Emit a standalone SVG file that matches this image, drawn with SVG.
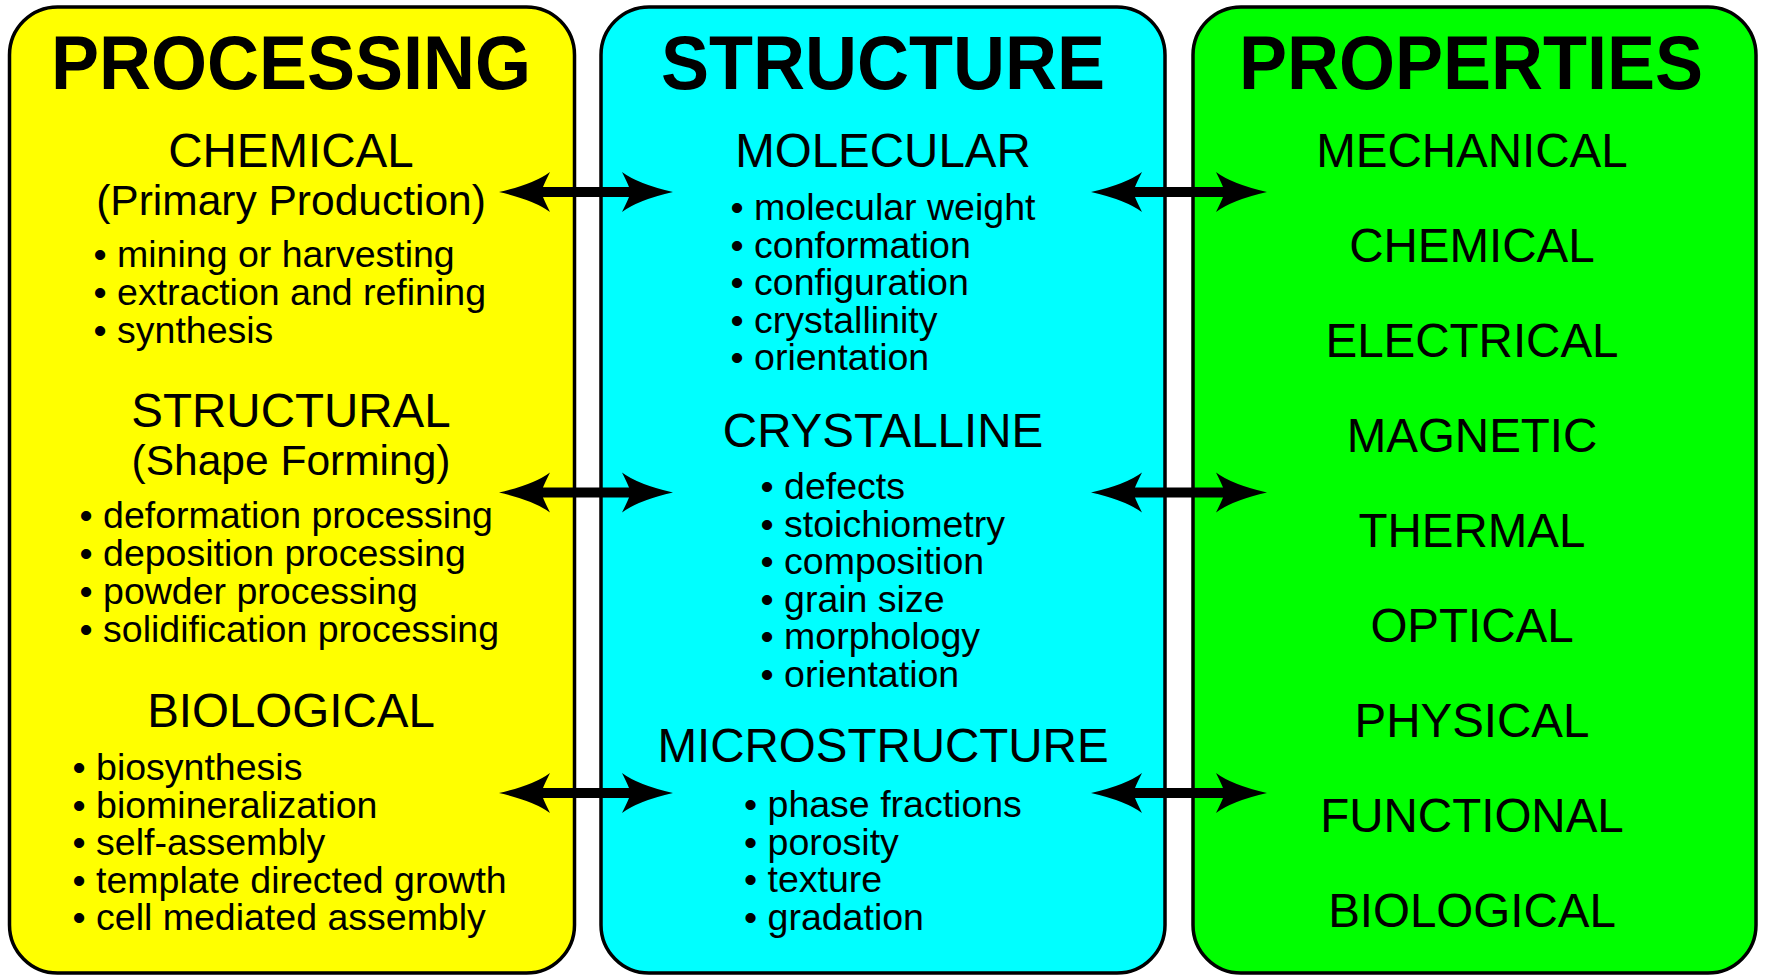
<svg xmlns="http://www.w3.org/2000/svg" xmlns:xlink="http://www.w3.org/1999/xlink" width="1765" height="976" viewBox="0 0 1765 976">
<style>
.box{stroke:#000;stroke-width:3.5}
.hdr{font-family:"Liberation Sans",Arial,sans-serif;font-weight:bold;font-size:72px;text-anchor:middle;fill:#000}
.sec{font-family:"Liberation Sans",Arial,sans-serif;font-size:47.5px;text-anchor:middle;fill:#000}
.sub{font-family:"Liberation Sans",Arial,sans-serif;font-size:42.5px;text-anchor:middle;fill:#000}
.bul{font-family:"Liberation Sans",Arial,sans-serif;font-size:37.5px;fill:#000}
.shaft{stroke:#000;stroke-width:10;fill:none}
</style>
<defs>
<path id="ah" d="M0,0 Q35,-8 51,-20 Q46,-10 44,-5 L44,5 Q46,10 51,20 Q35,8 0,0 Z" fill="#000"/>
</defs>
<rect width="1765" height="976" fill="#fff"/>
<g id="processing">
<rect class="box" x="9.5" y="7" width="565" height="966" rx="48" fill="#ffff00"/>
<text class="hdr" transform="translate(291,88.5) scale(1,1.05)">PROCESSING</text>
<text class="sec" x="291" y="166.5">CHEMICAL</text>
<text class="sub" x="291" y="215">(Primary Production)</text>
<text class="bul" x="93.5" y="267">• mining or harvesting</text>
<text class="bul" x="93.5" y="305">• extraction and refining</text>
<text class="bul" x="93.5" y="343">• synthesis</text>
<text class="sec" x="291" y="427">STRUCTURAL</text>
<text class="sub" x="291" y="475">(Shape Forming)</text>
<text class="bul" x="79.5" y="528">• deformation processing</text>
<text class="bul" x="79.5" y="566">• deposition processing</text>
<text class="bul" x="79.5" y="604">• powder processing</text>
<text class="bul" x="79.5" y="642">• solidification processing</text>
<text class="sec" x="291" y="727">BIOLOGICAL</text>
<text class="bul" x="72.5" y="780">• biosynthesis</text>
<text class="bul" x="72.5" y="817.5">• biomineralization</text>
<text class="bul" x="72.5" y="855">• self-assembly</text>
<text class="bul" x="72.5" y="892.5">• template directed growth</text>
<text class="bul" x="72.5" y="930">• cell mediated assembly</text>
</g>
<g id="structure">
<rect class="box" x="601" y="7" width="564" height="966" rx="48" fill="#00ffff"/>
<text class="hdr" transform="translate(883,88.5) scale(1,1.05)">STRUCTURE</text>
<text class="sec" x="883" y="167">MOLECULAR</text>
<text class="bul" x="730.5" y="220">• molecular weight</text>
<text class="bul" x="730.5" y="257.5">• conformation</text>
<text class="bul" x="730.5" y="295">• configuration</text>
<text class="bul" x="730.5" y="332.5">• crystallinity</text>
<text class="bul" x="730.5" y="370">• orientation</text>
<text class="sec" x="883" y="447">CRYSTALLINE</text>
<text class="bul" x="760.5" y="499">• defects</text>
<text class="bul" x="760.5" y="536.5">• stoichiometry</text>
<text class="bul" x="760.5" y="574">• composition</text>
<text class="bul" x="760.5" y="611.5">• grain size</text>
<text class="bul" x="760.5" y="649">• morphology</text>
<text class="bul" x="760.5" y="686.5">• orientation</text>
<text class="sec" x="883" y="762">MICROSTRUCTURE</text>
<text class="bul" x="744" y="817">• phase fractions</text>
<text class="bul" x="744" y="854.5">• porosity</text>
<text class="bul" x="744" y="892">• texture</text>
<text class="bul" x="744" y="929.5">• gradation</text>
</g>
<g id="properties">
<rect class="box" x="1193" y="7" width="563" height="966" rx="48" fill="#00ff00"/>
<text class="hdr" transform="translate(1471,88.5) scale(1,1.05)">PROPERTIES</text>
<text class="sec" x="1472" y="167">MECHANICAL</text>
<text class="sec" x="1472" y="262">CHEMICAL</text>
<text class="sec" x="1472" y="357">ELECTRICAL</text>
<text class="sec" x="1472" y="452">MAGNETIC</text>
<text class="sec" x="1472" y="547">THERMAL</text>
<text class="sec" x="1472" y="642">OPTICAL</text>
<text class="sec" x="1472" y="737">PHYSICAL</text>
<text class="sec" x="1472" y="832">FUNCTIONAL</text>
<text class="sec" x="1472" y="927">BIOLOGICAL</text>
</g>
<g id="connectors">
<line class="shaft" x1="540" y1="192" x2="632" y2="192"/>
<use xlink:href="#ah" transform="translate(499,192)"/>
<use xlink:href="#ah" transform="translate(673,192) scale(-1,1)"/>
<line class="shaft" x1="540" y1="492.5" x2="632" y2="492.5"/>
<use xlink:href="#ah" transform="translate(499,492.5)"/>
<use xlink:href="#ah" transform="translate(673,492.5) scale(-1,1)"/>
<line class="shaft" x1="540" y1="793" x2="632" y2="793"/>
<use xlink:href="#ah" transform="translate(499,793)"/>
<use xlink:href="#ah" transform="translate(673,793) scale(-1,1)"/>
<line class="shaft" x1="1132" y1="192" x2="1226" y2="192"/>
<use xlink:href="#ah" transform="translate(1091,192)"/>
<use xlink:href="#ah" transform="translate(1267,192) scale(-1,1)"/>
<line class="shaft" x1="1132" y1="492.5" x2="1226" y2="492.5"/>
<use xlink:href="#ah" transform="translate(1091,492.5)"/>
<use xlink:href="#ah" transform="translate(1267,492.5) scale(-1,1)"/>
<line class="shaft" x1="1132" y1="793" x2="1226" y2="793"/>
<use xlink:href="#ah" transform="translate(1091,793)"/>
<use xlink:href="#ah" transform="translate(1267,793) scale(-1,1)"/>
</g>
</svg>
